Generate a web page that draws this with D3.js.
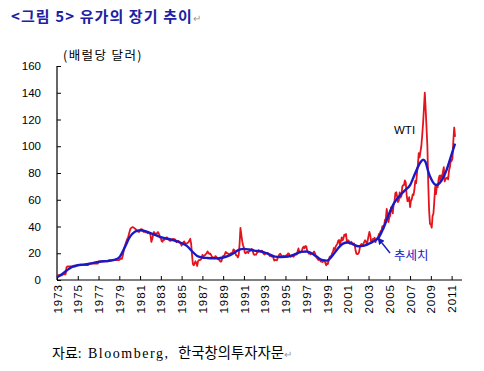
<!DOCTYPE html>
<html>
<head>
<meta charset="utf-8">
<script src="https://cdn.jsdelivr.net/npm/d3@7"></script>
<style>
  body { margin: 0; background: #fff; }
  svg { display: block; }
</style>
</head>
<body>
<div class="container"></div>
<script>
// WTI monthly, one row per year from 1973 (last row ends May 2011)
const wtiStartYear = 1973;
const wtiMonthly = [
  [3.56, 3.56, 3.56, 3.56, 3.56, 3.56, 3.56, 4.31, 4.31, 4.31, 4.31, 9.5],
  [10.1, 10.1, 10.1, 10.1, 10.1, 10.1, 10.1, 10.1, 10.1, 10.1, 10.6, 11.0],
  [11.2, 11.2, 11.2, 11.2, 11.2, 11.2, 11.2, 11.2, 11.2, 11.2, 11.2, 11.2],
  [11.2, 12.0, 12.2, 12.2, 12.2, 12.2, 12.2, 12.2, 12.2, 12.2, 12.2, 12.2],
  [13.9, 13.9, 13.9, 13.9, 13.9, 13.9, 14.0, 14.0, 14.0, 14.0, 14.0, 14.0],
  [14.9, 14.9, 14.9, 14.9, 14.9, 14.9, 14.9, 14.9, 14.9, 14.9, 14.9, 14.9],
  [14.9, 15.9, 15.9, 15.9, 18.1, 21.5, 24.5, 26.5, 28.5, 30.5, 31.5, 34.0],
  [36.5, 38.5, 39.0, 39.5, 39.5, 39.0, 38.5, 38.0, 37.0, 36.5, 36.0, 36.0],
  [37.5, 38.0, 38.0, 37.5, 36.0, 36.0, 36.0, 35.5, 36.0, 35.0, 35.5, 35.0],
  [33.9, 28.5, 30.5, 33.5, 35.9, 35.1, 34.2, 34.0, 35.6, 35.7, 34.2, 31.7],
  [31.2, 29.0, 28.6, 30.6, 30.0, 31.0, 31.7, 31.9, 31.1, 30.4, 29.5, 29.3],
  [29.6, 30.5, 30.8, 30.4, 30.5, 29.9, 28.3, 28.9, 29.3, 28.8, 28.0, 27.4],
  [25.6, 27.3, 28.2, 28.8, 27.6, 27.1, 27.3, 27.8, 28.3, 29.5, 30.8, 27.2],
  [19.0, 12.0, 11.0, 12.5, 14.0, 12.5, 10.5, 14.0, 14.9, 14.9, 15.2, 16.1],
  [18.7, 17.7, 18.3, 18.6, 19.4, 20.0, 21.4, 20.3, 19.5, 19.8, 18.9, 17.2],
  [17.1, 16.7, 16.2, 17.9, 17.4, 16.5, 15.5, 15.5, 14.5, 13.8, 14.0, 16.3],
  [18.0, 17.8, 19.4, 21.0, 20.0, 20.0, 19.6, 18.5, 19.6, 20.1, 19.8, 21.1],
  [22.9, 22.1, 20.4, 18.4, 18.2, 16.9, 18.6, 27.0, 39.0, 34.0, 29.0, 26.0],
  [24.0, 20.5, 19.9, 20.8, 21.2, 20.2, 21.4, 21.7, 21.9, 23.2, 22.5, 19.5],
  [18.8, 19.0, 18.9, 20.2, 20.9, 22.4, 21.8, 21.4, 21.9, 21.7, 20.3, 19.4],
  [19.1, 20.1, 20.3, 20.3, 19.9, 19.1, 17.9, 18.0, 17.5, 18.1, 16.7, 14.5],
  [15.0, 14.8, 14.7, 16.4, 17.9, 19.1, 19.7, 18.4, 17.5, 17.7, 18.1, 17.2],
  [18.0, 18.5, 18.6, 19.9, 19.7, 18.4, 17.3, 18.0, 18.2, 17.4, 18.0, 19.0],
  [18.9, 19.1, 21.4, 23.6, 21.3, 20.5, 21.3, 22.0, 24.0, 24.9, 23.7, 25.4],
  [25.2, 22.2, 21.0, 19.7, 20.8, 19.2, 19.6, 19.9, 19.8, 21.3, 20.2, 18.3],
  [16.7, 16.1, 15.0, 15.4, 14.9, 13.7, 14.1, 13.4, 15.0, 14.4, 12.9, 11.0],
  [12.5, 12.0, 14.7, 17.3, 17.8, 17.9, 20.1, 21.3, 23.9, 22.6, 25.0, 26.1],
  [27.2, 29.4, 29.9, 25.7, 28.8, 31.8, 29.7, 31.2, 33.9, 33.1, 34.4, 28.5],
  [29.6, 29.6, 27.2, 27.4, 28.6, 27.6, 26.4, 27.4, 26.2, 22.2, 19.6, 19.3],
  [19.7, 20.7, 24.4, 26.3, 27.0, 25.5, 26.9, 28.4, 29.7, 28.9, 26.3, 29.4],
  [33.0, 35.9, 33.5, 28.2, 28.1, 30.7, 30.8, 31.6, 28.3, 30.3, 31.1, 32.1],
  [34.3, 34.7, 36.7, 36.7, 40.3, 38.0, 40.7, 44.9, 45.9, 53.1, 48.5, 43.3],
  [46.8, 48.0, 54.3, 53.0, 49.8, 56.3, 58.7, 64.9, 65.6, 62.4, 58.3, 59.4],
  [65.5, 61.6, 62.9, 69.7, 70.9, 71.0, 74.4, 73.0, 63.8, 58.9, 59.1, 62.0],
  [54.5, 59.3, 60.4, 63.9, 63.5, 67.5, 74.1, 72.4, 79.9, 85.8, 94.8, 91.7],
  [96.0, 100.0, 108.0, 117.0, 128.0, 140.0, 128.0, 114.0, 100.0, 72.0, 52.0, 42.0],
  [41.7, 39.1, 47.9, 49.7, 59.0, 69.6, 64.2, 71.1, 69.4, 75.7, 78.0, 74.5],
  [78.3, 76.4, 81.2, 84.3, 73.7, 75.3, 76.3, 76.6, 75.2, 81.9, 84.3, 89.2],
  [89.0, 91.0, 104.0, 114.0, 107.0]
];

// trend (추세치), read at half-year points
const trendYears = [
  1973.0, 1973.5, 1974.0, 1974.5, 1975.0, 1975.5, 1976.0, 1976.5, 1977.0, 1977.5,
  1978.0, 1978.5, 1979.0, 1979.5, 1980.0, 1980.5, 1981.0, 1981.5, 1982.0, 1982.5,
  1983.0, 1983.5, 1984.0, 1984.5, 1985.0, 1985.5, 1986.0, 1986.5, 1987.0, 1987.5,
  1988.0, 1988.5, 1989.0, 1989.5, 1990.0, 1990.5, 1991.0, 1991.5, 1992.0, 1992.5,
  1993.0, 1993.5, 1994.0, 1994.5, 1995.0, 1995.5, 1996.0, 1996.5, 1997.0, 1997.5,
  1998.0, 1998.5, 1999.0, 1999.5, 2000.0, 2000.5, 2001.0, 2001.5, 2002.0, 2002.5,
  2003.0, 2003.5, 2004.0, 2004.5, 2005.0, 2005.5, 2006.0, 2006.5, 2007.0, 2007.5,
  2008.0, 2008.25, 2008.5, 2008.75, 2009.0, 2009.5, 2010.0, 2010.5, 2011.0, 2011.33
];
const trendValues = [
  2.0, 4.5, 7.5, 10.0, 11.0, 11.5, 12.0, 12.8, 13.5, 14.0,
  14.3, 15.0, 17.0, 24.0, 32.0, 36.0, 37.2, 36.5, 35.0, 33.5,
  32.0, 31.0, 30.2, 29.0, 27.5, 25.5, 21.5, 18.0, 16.8, 16.5,
  16.3, 16.2, 16.8, 18.0, 20.0, 22.5, 23.3, 22.8, 22.0, 21.5,
  20.5, 19.0, 17.5, 17.2, 17.3, 18.0, 19.5, 21.0, 21.3, 20.0,
  17.5, 15.0, 14.5, 18.0, 23.0, 27.0, 28.0, 26.8, 25.2, 25.5,
  27.0, 29.0, 32.0, 40.0, 50.0, 58.0, 63.0, 67.0, 71.0, 80.0,
  88.0, 90.0, 88.0, 81.0, 76.0, 71.0, 74.0, 82.0, 94.0, 102.0
];

const yTicks = [0, 20, 40, 60, 80, 100, 120, 140, 160];
const xTicks = d3.range(1973, 2012, 2);

const width = 484, height = 371;
const margin = {top: 66, right: 22, bottom: 91, left: 57};

const svg = d3.select('.container')
  .append('svg')
  .attr('width', width)
  .attr('height', height);

const x = d3.scaleLinear()
  .domain([1973, 2012])
  .range([margin.left, width - margin.right]);

const y = d3.scaleLinear()
  .domain([0, 160])
  .range([height - margin.bottom, margin.top]);

// title
svg.append('text')
  .attr('x', 11).attr('y', 22)
  .attr('font-family', 'Noto Sans CJK KR')
  .attr('font-weight', 'bold')
  .attr('font-size', 15)
  .attr('letter-spacing', 1.1)
  .attr('fill', '#2020a4')
  .text('<그림 5> 유가의 장기 추이')
  .append('tspan')
  .attr('fill', '#999').attr('font-weight', 'normal').attr('font-size', 10)
  .attr('letter-spacing', 0)
  .text('↵');

// unit label
svg.append('text')
  .attr('x', 63).attr('y', 60)
  .attr('font-family', 'Noto Sans CJK KR')
  .attr('font-size', 12.5)
  .attr('letter-spacing', 1.4)
  .attr('fill', '#000')
  .text('(배럴당 달러)');

// axes
const yAxis = svg.append('g')
  .attr('transform', `translate(${margin.left},0)`)
  .call(d3.axisLeft(y).tickValues(yTicks).tickSize(-4).tickPadding(16));

const xAxis = svg.append('g')
  .attr('transform', `translate(0,${height - margin.bottom})`)
  .call(d3.axisBottom(x).tickValues(xTicks).tickSize(-4).tickFormat(d3.format('d')));

[yAxis, xAxis].forEach(g => {
  g.select('.domain').attr('stroke', '#000').attr('stroke-width', 1.2);
  g.selectAll('.tick line').attr('stroke', '#000');
  g.selectAll('text')
    .attr('font-family', 'Liberation Sans, Arial, sans-serif')
    .attr('font-size', 11.5)
    .attr('fill', '#000');
});
// only the outer domain line, no end caps
yAxis.select('.domain').attr('d', `M0,${y(160)}V${y(0)}`);
xAxis.select('.domain').attr('d', `M${margin.left},0H${width - margin.right}`);

xAxis.selectAll('text')
  .attr('text-anchor', 'end')
  .attr('letter-spacing', 1)
  .attr('transform', 'rotate(-90)')
  .attr('x', -4)
  .attr('y', 0)
  .attr('dy', '0.36em');

// series
const wti = [];
wtiMonthly.forEach((row, i) => {
  row.forEach((v, m) => wti.push({t: wtiStartYear + i + m / 12, v: v}));
});
const trend = trendYears.map((t, i) => ({t: t, v: trendValues[i]}));

const line = d3.line()
  .x(d => x(d.t))
  .y(d => y(d.v));

svg.append('path')
  .datum(wti)
  .attr('fill', 'none')
  .attr('stroke', '#e4141c')
  .attr('stroke-width', 1.8)
  .attr('stroke-linejoin', 'round')
  .attr('d', line);

svg.append('path')
  .datum(trend)
  .attr('fill', 'none')
  .attr('stroke', '#1a1ac4')
  .attr('stroke-width', 2.4)
  .attr('d', line.curve(d3.curveMonotoneX));

// labels
svg.append('text')
  .attr('x', 394).attr('y', 134)
  .attr('font-family', 'Liberation Sans, Arial, sans-serif')
  .attr('font-size', 11.5)
  .attr('fill', '#000')
  .text('WTI');

svg.append('defs').append('marker')
  .attr('id', 'arrow')
  .attr('viewBox', '0 0 10 10')
  .attr('refX', 8).attr('refY', 5)
  .attr('markerWidth', 5).attr('markerHeight', 5)
  .attr('orient', 'auto')
  .append('path')
  .attr('d', 'M0,0L10,5L0,10z')
  .attr('fill', '#1a1ac4');

svg.append('line')
  .attr('x1', 390).attr('y1', 253)
  .attr('x2', x(2003.95)).attr('y2', y(31))
  .attr('stroke', '#1a1ac4')
  .attr('stroke-width', 1.4)
  .attr('marker-end', 'url(#arrow)');

svg.append('text')
  .attr('x', 394).attr('y', 260)
  .attr('font-family', 'Noto Sans CJK KR')
  .attr('font-size', 12.5)
  .attr('fill', '#1a1ac4')
  .text('추세치');

// source
const src = svg.append('text')
  .attr('y', 358)
  .attr('font-family', 'Liberation Serif, Noto Sans CJK KR, serif')
  .attr('font-size', 14)
  .attr('fill', '#000');
src.append('tspan').attr('x', 52).text('자료:');
src.append('tspan').attr('x', 88)
  .attr('textLength', 80).attr('lengthAdjust', 'spacing')
  .text('Bloomberg,');
src.append('tspan').attr('x', 178)
  .attr('font-size', 14.4)
  .text('한국창의투자자문');
src.append('tspan')
  .attr('fill', '#999').attr('font-size', 10)
  .text('↵');
</script>
</body>
</html>
